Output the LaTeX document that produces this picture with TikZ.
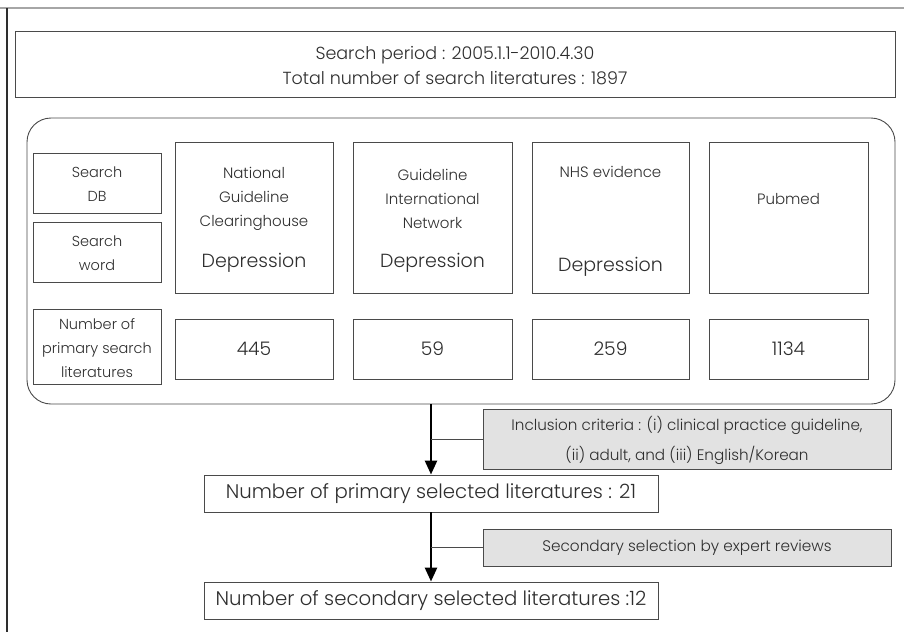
\documentclass[tikz,border=0pt]{standalone}
\usepackage{fontspec}
\setmainfont{Poppins}[UprightFont=* Light]
\usetikzlibrary{arrows.meta}
\definecolor{edge}{HTML}{4A4A4A}
\definecolor{ink}{HTML}{2E2E2E}
\definecolor{grayfill}{HTML}{E2E2E2}
\tikzset{
  every node/.style={text=ink},
  boxnode/.style={draw=edge, line width=0.9pt, inner sep=0pt, align=center},
  graybox/.style={boxnode, fill=grayfill},
  txt/.style={inner sep=0pt, align=center},
  titlefont/.style={font=\fontsize{15}{24}\selectfont},
  bigfont/.style={font=\fontsize{19}{22}\selectfont},
  flowarrow/.style={line width=2.6pt, -{Triangle[width=12pt,length=14pt]}},
  branch/.style={draw=edge, line width=0.9pt},
}
\begin{document}
\begin{tikzpicture}[x=1pt,y=-1pt]
\useasboundingbox (0,0) rectangle (904,632);
% frame
\draw[draw=gray!70, line width=1.6pt] (0,8) -- (904,8);
\draw[draw=ink, line width=1.3pt] (7,8) -- (7,632);

% top box
\node[boxnode, minimum width=880pt, minimum height=66pt] (top) at (455,64) {};
\node[txt, font=\fontsize{17.5}{25}\selectfont] (toptxt) at (455,65.5)
  {Search period : 2005.1.1-2010.4.30\\Total number of search literatures : 1897};

% rounded container
\node[boxnode, rounded corners=24pt, minimum width=868pt, minimum height=286pt] (round) at (461,261) {};

% left labels
\node[boxnode, minimum width=128pt, minimum height=60pt] (db) at (97,183) {};
\node[txt, font=\fontsize{14.5}{24}\selectfont] (dbtxt) at (97,184) {Search\\DB};
\node[boxnode, minimum width=128pt, minimum height=60pt] (word) at (97,252) {};
\node[txt, font=\fontsize{14.5}{24}\selectfont] (wordtxt) at (97,253) {Search\\word};
\node[boxnode, minimum width=128pt, minimum height=75pt] (num) at (97,346.5) {};
\node[txt, font=\fontsize{14.5}{24}\selectfont] (numtxt) at (97,348) {Number of\\primary search\\literatures};

% columns top boxes
\node[boxnode, minimum width=158pt, minimum height=151pt] (ngc) at (254,217.5) {};
\node[boxnode, minimum width=159pt, minimum height=151pt] (gin) at (432.5,217.5) {};
\node[boxnode, minimum width=157pt, minimum height=151pt] (nhs) at (610.5,217.5) {};
\node[boxnode, minimum width=159pt, minimum height=151pt] (pub) at (788.5,217.5) {};

\node[txt, titlefont] (ngct) at (254,199) {National\\Guideline\\Clearinghouse};
\node[txt, bigfont] (ngcd) at (254,263) {Depression};
\node[txt, titlefont] (gint) at (432.5,199) {Guideline\\International\\Network};
\node[txt, bigfont] (gind) at (432.5,263) {Depression};
\node[txt, titlefont] (nhst) at (610.5,172) {NHS evidence};
\node[txt, bigfont] (nhsd) at (610.5,267) {Depression};
\node[txt, titlefont] (pubt) at (788.5,199) {Pubmed};

% number boxes
\node[boxnode, minimum width=158pt, minimum height=60pt, font=\fontsize{18.7}{20}\selectfont] (n1) at (254,349) {445};
\node[boxnode, minimum width=159pt, minimum height=60pt, font=\fontsize{18.7}{20}\selectfont] (n2) at (432.5,349) {59};
\node[boxnode, minimum width=157pt, minimum height=60pt, font=\fontsize{18.7}{20}\selectfont] (n3) at (610.5,349) {259};
\node[boxnode, minimum width=159pt, minimum height=60pt, font=\fontsize{18.7}{20}\selectfont] (n4) at (788.5,349) {1134};

% lower flow
\node[boxnode, minimum width=454pt, minimum height=37pt, font=\fontsize{19.7}{22}\selectfont] (sel1) at (431,493.5) {Number of primary selected literatures : 21};
\node[boxnode, minimum width=454pt, minimum height=37pt, font=\fontsize{19.7}{22}\selectfont] (sel2) at (431,600.5) {Number of secondary selected literatures :12};
\node[graybox, minimum width=408pt, minimum height=60pt] (crit) at (687,439) {};
\node[txt, font=\fontsize{15.2}{30}\selectfont] (crittxt) at (687,440)
  {Inclusion criteria : (i) clinical practice guideline,\\(ii) adult, and (iii) English/Korean};
\node[graybox, minimum width=408pt, minimum height=37pt, font=\fontsize{15.3}{17}\selectfont] (exp) at (687,547.5) {Secondary selection by expert reviews};

\draw[flowarrow] (sel1.north |- round.south) -- (sel1.north);
\draw[flowarrow] (sel1.south) -- (sel2.north);
\draw[branch] (sel1.north |- crit.west) -- (crit.west);
\draw[branch] (sel1.north |- exp.west) -- (exp.west);
\end{tikzpicture}
\end{document}
